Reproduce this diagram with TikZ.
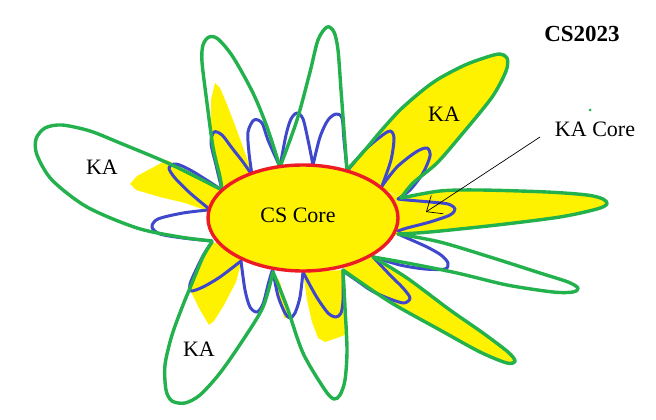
\documentclass[tikz,border=0pt]{standalone}
\usepackage{fontspec}
\setmainfont{Liberation Serif}
\usetikzlibrary{arrows.meta}
\definecolor{pgreen}{RGB}{34,177,76}
\definecolor{pyellow}{RGB}{255,242,0}
\definecolor{pred}{RGB}{237,28,36}
\definecolor{pblue}{RGB}{63,72,204}
\begin{document}
\begin{tikzpicture}[x=1pt,y=-1pt,
  greenline/.style={draw=pgreen,line width=3.4pt,line join=round,line cap=round},
  blueline/.style={draw=pblue,line width=3pt,line join=round,line cap=round},
  yfill/.style={fill=pyellow},
  corestyle/.style={draw=pred,fill=pyellow,line width=3.4pt},
  lbl/.style={inner sep=0pt,font=\fontsize{22}{24}\selectfont},
  titlelbl/.style={inner sep=0pt,font=\fontsize{23}{25}\selectfont\bfseries},
  pointer/.style={draw=black,line width=0.7pt,-{Straight Barb[length=13pt,width=22pt]}}]
\fill[white] (0,0) rectangle (656,420);
\useasboundingbox (0,0) rectangle (656,420);

% green petal outlines
\def\PonePath{plot[smooth] coordinates {(212,241) (180,237) (137,228) (87,207) (52,180) (37,155) (36,139) (45,128) (62,125) (90,131) (120,143) (170,164) (222,190)}}
\def\PtwoPath{plot[smooth] coordinates {(222,190) (220,177) (213,147) (207,103) (202,62) (203,45) (209,37) (218,39) (233,57) (253,93) (267,127) (280,167)}}
\def\PthreePath{plot[smooth] coordinates {(280,167) (297,120) (310,72) (318,40) (327,27) (334,32) (338,50) (341,90) (344,130) (347,170)}}
\def\PfourPath{plot[smooth] coordinates {(347,170) (365,150) (380,132) (400,110) (423,90) (440,78) (465,65) (487,57) (500,54) (507,58) (507,68) (501,82) (490,100) (463,133) (437,163) (413,183) (401,198)}}
\def\PfivePath{plot[smooth] coordinates {(401,198) (440,191) (480,190) (547,192) (587,195) (603,199) (607,204) (597,209) (560,217) (497,225) (430,232) (398,234)}}
\def\PsixPath{plot[smooth] coordinates {(398,234) (440,242) (490,257) (540,273) (568,282) (578,288) (573,292) (553,292) (507,285) (457,273) (407,263) (373,257)}}
\def\PsevenPath{plot[smooth] coordinates {(373,257) (407,278) (450,310) (483,333) (508,352) (515,361) (507,363) (480,352) (440,330) (390,302) (343,270)}}
\def\PeightPath{plot[smooth] coordinates {(343,270) (345,307) (347,350) (345,380) (340,395) (334,399) (325,390) (303,353) (287,307) (273,272)}}
\def\PninePath{plot[smooth] coordinates {(273,272) (263,307) (243,340) (220,373) (200,395) (185,403) (172,401) (166,390) (165,365) (172,335) (183,305) (190,288) (203,257) (212,242)}}

% yellow fills
\fill[yfill] \PfourPath -- cycle;
\fill[yfill] \PfivePath -- cycle;
\fill[yfill] \PsevenPath -- cycle;
\fill[yfill] (383,190) -- (401,198) -- (398,234) -- (390,238) -- cycle;
\fill[yfill] (343,270) -- (373,257) -- (360,250) -- cycle;
\fill[yfill] (130,184) -- (137,176) -- (150,169) -- (167,160) -- (222,189) -- (208,211) -- (185,203) -- (160,197) -- (136,190) -- cycle;
\fill[yfill] (215,83) -- (220,88) -- (226,102) -- (233,120) -- (243,147) -- (253,175) -- (240,185) -- (222,190) -- (216,165) -- (211,130) -- (211,100) -- cycle;
\fill[yfill] (212,242) -- (190,290) -- (200,310) -- (209,325) -- (214,321) -- (224,305) -- (236,282) -- (242,260) -- (240,250) -- cycle;
\fill[yfill] (303,272) -- (307,300) -- (312,322) -- (318,338) -- (325,342) -- (337,338) -- (347,334) -- (345,300) -- (343,270) -- cycle;
\fill[yfill] (274,273) -- (284,318) -- (290,318) -- (280,282) -- cycle;

% blue loops
\draw[blueline] plot[smooth] coordinates {(222,190) (216,165) (211,143) (214,132) (222,135) (232,148) (243,162) (252,175)};
\draw[blueline] plot[smooth] coordinates {(252,175) (249,153) (248,132) (254,120) (262,123) (268,140) (280,167)};
\draw[blueline] plot[smooth] coordinates {(280,167) (286,135) (291,119) (297,113) (303,119) (308,140) (313,165)};
\draw[blueline] plot[smooth] coordinates {(313,165) (320,137) (328,120) (336,114) (342,118) (344,140) (347,170)};
\draw[blueline] plot[smooth] coordinates {(348,170) (365,150) (380,137) (390,131) (394,138) (391,160) (382,186)};
\draw[blueline] plot[smooth] coordinates {(382,186) (397,167) (416,152) (427,148) (430,156) (423,173) (410,190) (398,199)};
\draw[blueline] plot[smooth] coordinates {(398,199) (407,200) (430,202) (448,204) (455,209) (450,215) (430,222) (407,228) (398,231)};
\draw[blueline] plot[smooth] coordinates {(398,234) (407,238) (427,247) (441,255) (448,263) (445,269) (425,269) (400,265) (374,257)};
\draw[blueline] plot[smooth] coordinates {(373,257) (390,275) (403,288) (410,298) (404,303) (390,299) (372,291) (356,280) (343,271)};
\draw[blueline] plot[smooth] coordinates {(343,271) (343,300) (341,313) (336,317) (328,313) (316,296) (303,272)};
\draw[blueline] plot[smooth] coordinates {(303,272) (300,297) (295,313) (290,318) (285,313) (278,296) (273,271)};
\draw[blueline] plot[smooth] coordinates {(272,271) (268,285) (263,304) (257,312) (250,307) (245,290) (241,261)};
\draw[blueline] plot[smooth] coordinates {(241,261) (220,277) (203,287) (191,291) (190,284) (196,270) (204,254) (212,242)};
\draw[blueline] plot[smooth] coordinates {(212,241) (183,238) (160,234) (152,227) (158,219) (183,213) (208,210)};
\draw[blueline] plot[smooth] coordinates {(208,208) (190,193) (175,178) (169,168) (176,164) (192,171) (222,190)};

% green petals
\draw[greenline] \PonePath;
\draw[greenline] \PtwoPath;
\draw[greenline] \PthreePath;
\draw[greenline] \PfourPath;
\draw[greenline] \PfivePath;
\draw[greenline] \PsixPath;
\draw[greenline] \PsevenPath;
\draw[greenline] \PeightPath;
\draw[greenline] \PninePath;
\fill[pgreen] (590,110) circle (1.5pt);

% core
\draw[corestyle] (303,218) ellipse [x radius=95pt, y radius=53pt];

% labels
\node[lbl] (cscore) at (298,215) {CS Core};
\node[lbl] (kaleft) at (102,167) {KA};
\node[lbl] (kaupper) at (444,114) {KA};
\node[lbl] (kalower) at (199,349) {KA};
\node[lbl] (kacore) at (595,129) {KA Core};
\node[titlelbl] (title) at (582,34) {CS2023};

% pointer
\coordinate (kastart) at (540,137);
\coordinate (katip) at (426,212);
\draw[pointer] (kastart) -- (katip);
\end{tikzpicture}
\end{document}
